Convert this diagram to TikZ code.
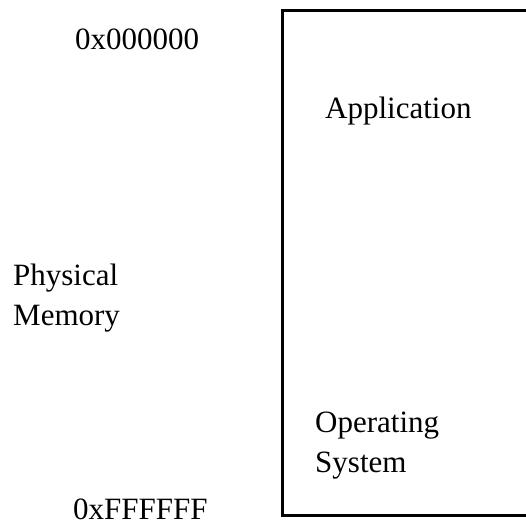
\documentclass[tikz,border=0pt]{standalone}
\usepackage{fontspec}
\setmainfont{Liberation Serif}
\begin{document}
\begin{tikzpicture}[x=1pt,y=-1pt,
  lbl/.style={anchor=base west,inner sep=0pt,align=left,
    font=\fontsize{31}{40}\selectfont},
  wall/.style={line width=3pt,line cap=rect}]
\useasboundingbox (0,0) rectangle (526,525);
\coordinate (tr) at (530,10);
\coordinate (tl) at (282,10);
\coordinate (bl) at (282,515);
\coordinate (br) at (530,515);
\draw[wall] (tr) -- (tl) -- (bl) -- (br);
\node[lbl] (top) at (75,49) {0x000000};
\node[lbl] (bot) at (73,519) {0xFFFFFF};
\node[lbl] (pm) at (13,325) {Physical\\Memory};
\node[lbl] (app) at (325,118) {Application};
\node[lbl] (os) at (315,472) {Operating\\System};
\end{tikzpicture}
\end{document}
